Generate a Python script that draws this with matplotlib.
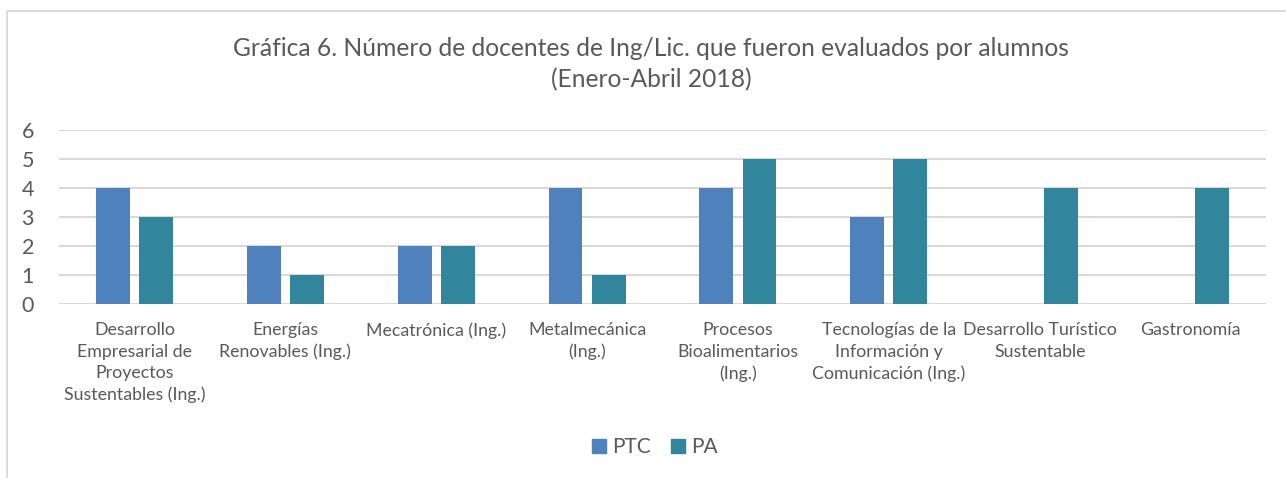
import matplotlib
matplotlib.use("Agg")
import matplotlib.pyplot as plt
from matplotlib.patches import Rectangle, Patch
import numpy as np

categories = [
    "Desarrollo\nEmpresarial de\nProyectos\nSustentables (Ing.)",
    "Energías\nRenovables (Ing.)",
    "Mecatrónica (Ing.)",
    "Metalmecánica\n(Ing.)",
    "Procesos\nBioalimentarios\n(Ing.)",
    "Tecnologías de la\nInformación y\nComunicación (Ing.)",
    "Desarrollo Turístico\nSustentable",
    "Gastronomía",
]
ptc = [4, 2, 2, 4, 4, 3, 0, 0]
pa = [3, 1, 2, 1, 5, 5, 4, 4]
yticks = [0, 1, 2, 3, 4, 5, 6]
title = "Gráfica 6. Número de docentes de Ing/Lic. que fueron evaluados por alumnos\n(Enero-Abril 2018)"

plt.rcParams['font.family'] = ['Lato', 'DejaVu Sans']
W, H = 1286, 478
fig = plt.figure(figsize=(W / 100, H / 100), dpi=100)

# chart border
fig.patches.append(Rectangle((7 / W, -0.1), 1.2, 1 - 11 / H + 0.1, transform=fig.transFigure,
                             fill=False, edgecolor="#d9d9d9", linewidth=1.3))

ax = fig.add_axes([59 / W, 174 / H, (1266 - 59) / W, 174 / H])
x = np.arange(len(categories))
bw = 0.225
c_ptc = "#4f81bd"
c_pa = "#31859c"
ax.bar(x - 0.143, ptc, bw, color=c_ptc, zorder=3)
ax.bar(x + 0.143, pa, bw, color=c_pa, zorder=3)
ax.set_xlim(-0.5, len(categories) - 0.5)
ax.set_ylim(0, 6)
ax.set_yticks(yticks)
ax.set_yticklabels([str(t) for t in yticks], fontsize=15.5, color="#595959")
ax.set_xticks(x)
ax.set_xticklabels(categories, fontsize=12.8, color="#595959", linespacing=1.42, va="top")
ax.tick_params(axis="both", length=0)
ax.tick_params(axis="y", pad=18)
ax.tick_params(axis="x", pad=13)
for s in ax.spines.values():
    s.set_visible(False)
ax.grid(axis="y", color="#d9d9d9", linewidth=1.5, zorder=0)
ax.set_axisbelow(True)

fig.text(651 / W, 1 - 64 / H, title, ha="center", va="center", fontsize=17.7,
         color="#595959", linespacing=1.45)

handles = [Patch(color=c_ptc, label="PTC"), Patch(color=c_pa, label="PA")]
fig.legend(handles=handles, loc="center", bbox_to_anchor=(655 / W, 1 - 447 / H), ncol=2,
           frameon=False, fontsize=15, handlelength=0.65, handleheight=0.65,
           handletextpad=0.3, columnspacing=1.0, labelcolor="#595959")

fig.savefig("out.png", dpi=100)
